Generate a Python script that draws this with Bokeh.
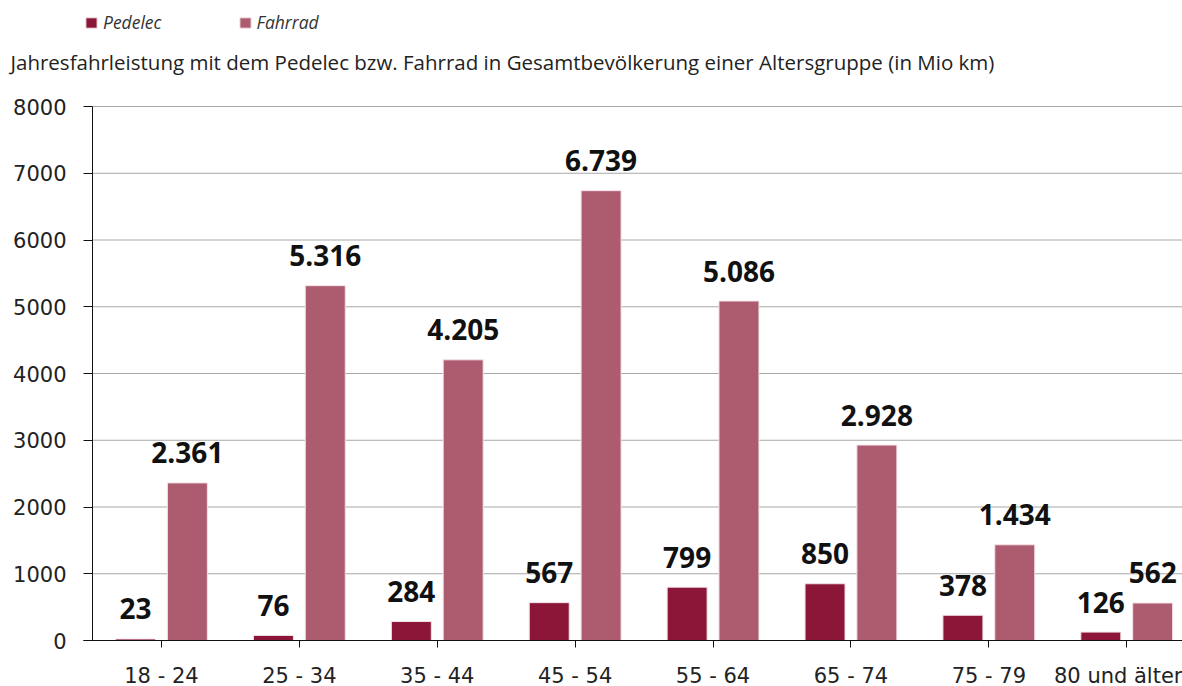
from bokeh.plotting import figure
from bokeh.models import Range1d, FixedTicker, ColumnDataSource, Label, Legend, LegendItem
from bokeh.core.properties import value
from bokeh.embed import file_html
from bokeh.resources import INLINE

# ---- data ----
categories = ["18 - 24", "25 - 34", "35 - 44", "45 - 54", "55 - 64", "65 - 74", "75 - 79", "80 und älter"]
pedelec = [23, 76, 284, 567, 799, 850, 378, 126]
fahrrad = [2361, 5316, 4205, 6739, 5086, 2928, 1434, 562]
y_ticks = [0, 1000, 2000, 3000, 4000, 5000, 6000, 7000, 8000]
series_names = ["Pedelec", "Fahrrad"]
title_text = "Jahresfahrleistung mit dem Pedelec bzw. Fahrrad in Gesamtbevölkerung einer Altersgruppe (in Mio km)"

# ---- layout constants (pixels) ----
COL_PED = "#8c1637"
COL_FAH = "#ad5c70"
W, H = 1182, 686
AX_X, AX_TOP, AX_BOT = 92, 106, 640   # y-axis position, 8000 and 0 in pixels
PX_PER_CAT = 137.9
Y_MAX = 8000
YPX = Y_MAX / (AX_BOT - AX_TOP)


def px2x(px):
    return (px - AX_X) / PX_PER_CAT


def py2y(py):
    return (AX_BOT - py) * YPX


def fmt(v):
    return f"{v:,}".replace(",", ".")


p = figure(width=W, height=H, output_backend="svg", toolbar_location=None,
           x_range=Range1d(px2x(0), px2x(W)), y_range=Range1d(py2y(H), py2y(0)),
           min_border_left=0, min_border_right=0, min_border_top=0,
           min_border_bottom=0)
p.outline_line_color = None
p.background_fill_color = "white"
p.border_fill_color = "white"

centers = [i + 0.5 for i in range(len(categories))]
off = 0.188
bw = 0.29
src = ColumnDataSource(dict(
    xp=[c - off for c in centers], xf=[c + off for c in centers],
    ped=pedelec, fah=fahrrad,
    lp=[fmt(v) for v in pedelec], lf=[fmt(v) for v in fahrrad],
))

# grid lines (only right of the axis, up to 8000)
p.segment(x0=0, x1=px2x(W), y0=y_ticks, y1=y_ticks, line_color="#a8a8a8",
          line_width=1, level="underlay")

r_ped = p.vbar(x="xp", top="ped", bottom=0, width=bw, source=src, fill_color=COL_PED,
               line_color="#f3e3e8", line_width=1)
r_fah = p.vbar(x="xf", top="fah", bottom=0, width=bw, source=src, fill_color=COL_FAH,
               line_color="#f3e3e8", line_width=1)

for xs, ys, ls in (("xp", "ped", "lp"), ("xf", "fah", "lf")):
    p.text(x=xs, y=ys, text=ls, source=src, text_align="center", text_baseline="alphabetic",
           y_offset=-30, text_font=value("Open Sans"), text_font_style="bold",
           text_font_size="28px", text_color="#111111")

# x axis, drawn at y = 0 inside the frame
xa = p.xaxis[0]
xa.fixed_location = 0
xa.ticker = FixedTicker(ticks=centers)
xa.major_label_overrides = {c: name for c, name in zip(centers, categories)}
xa.major_label_text_font = "DejaVu Sans"
xa.major_label_text_font_size = "21px"
xa.major_label_text_color = "#222222"
xa.major_label_standoff = 16
xa.major_tick_out = 7
xa.major_tick_in = 0
xa.minor_tick_line_color = None
xa.axis_line_color = "#111111"
xa.major_tick_line_color = "#111111"
xa.bounds = (px2x(83), px2x(W))

# y axis, drawn at x = 0 inside the frame
ya = p.yaxis[0]
ya.fixed_location = 0
ya.bounds = (0, Y_MAX)
ya.ticker = FixedTicker(ticks=y_ticks)
ya.major_tick_out = 9
ya.major_tick_in = 0
ya.minor_tick_line_color = None
ya.major_label_standoff = 17
ya.major_label_text_font = "DejaVu Sans"
ya.major_label_text_font_size = "21px"
ya.major_label_text_color = "#222222"
ya.axis_line_color = "#111111"
ya.major_tick_line_color = "#111111"

p.xgrid.grid_line_color = None
p.ygrid.grid_line_color = None

# title
p.add_layout(Label(x=px2x(10), y=py2y(61), text=title_text, text_align="left",
                   text_baseline="alphabetic", text_font="Open Sans",
                   text_font_size="20.5px", text_color="#222222"))

# legend
legend = Legend(items=[LegendItem(label=series_names[0], renderers=[r_ped]),
                       LegendItem(label=series_names[1], renderers=[r_fah])],
                orientation="horizontal", location=(84, AX_BOT - 34 + (H - AX_BOT)),
                glyph_width=14, glyph_height=13, label_standoff=5, spacing=76,
                padding=0, margin=0, border_line_color=None, background_fill_alpha=0,
                label_text_font="Open Sans", label_text_font_style="italic",
                label_text_font_size="17.5px", label_text_color="#333333")
p.add_layout(legend, "center")

open("out.html", "w").write(file_html(p, INLINE))
